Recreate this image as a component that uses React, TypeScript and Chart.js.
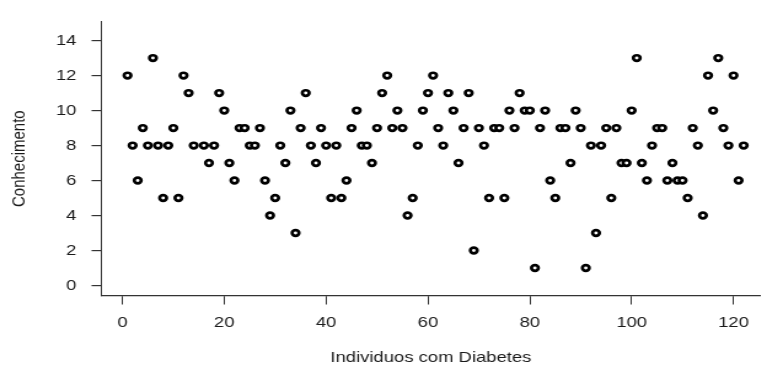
import { useEffect, useRef } from "react";
import { Chart, registerables } from "chart.js";

Chart.register(...registerables);

// Knowledge score for each individual (index 1..122); index 15 not shown in the plot
const conhecimento: (number | null)[] = [
  12, 8, 6, 9, 8, 13, 8, 5, 8, 9,
  5, 12, 11, 8, null, 8, 7, 8, 11, 10,
  7, 6, 9, 9, 8, 8, 9, 6, 4, 5,
  8, 7, 10, 3, 9, 11, 8, 7, 9, 8,
  5, 8, 5, 6, 9, 10, 8, 8, 7, 9,
  11, 12, 9, 10, 9, 4, 5, 8, 10, 11,
  12, 9, 8, 11, 10, 7, 9, 11, 2, 9,
  8, 5, 9, 9, 5, 10, 9, 11, 10, 10,
  1, 9, 10, 6, 5, 9, 9, 7, 10, 9,
  1, 8, 3, 8, 9, 5, 9, 7, 7, 10,
  13, 7, 6, 8, 9, 9, 6, 7, 6, 6,
  5, 9, 8, 4, 12, 10, 13, 9, 8, 12,
  6, 8,
];

const xTicks = [0, 20, 40, 60, 80, 100, 120];
const yTicks = [0, 2, 4, 6, 8, 10, 12, 14];

const xTitle = "Individuos com Diabetes";
const yTitle = "Conhecimento";

const INNER_W = 624; // canvas drawn narrower and stretched to 767px like the reference
const H = 368;

export default function App() {
  const ref = useRef<HTMLCanvasElement | null>(null);

  useEffect(() => {
    const canvas = ref.current;
    if (!canvas) return;
    const font = { family: "'Liberation Sans', Arial, sans-serif", size: 15 };
    const textColor = "#1a1a1a";
    const lineColor = "#333";
    const points = conhecimento
      .map((v, i) => ({ x: i + 1, y: v }))
      .filter((p) => p.y !== null) as { x: number; y: number }[];

    const chart = new Chart(canvas, {
      type: "scatter",
      data: {
        datasets: [
          {
            data: points,
            pointRadius: 2.8,
            pointBorderWidth: 2.7,
            pointBorderColor: "#000",
            pointBackgroundColor: "#fff",
            pointHoverRadius: 2.8,
          },
        ],
      },
      options: {
        animation: false,
        responsive: false,
        maintainAspectRatio: false,
        devicePixelRatio: 1,
        layout: { padding: { top: 20.2, right: 0, bottom: 0, left: 0 } },
        plugins: {
          legend: { display: false },
          tooltip: { enabled: false },
        },
        scales: {
          x: {
            type: "linear",
            min: -4.1,
            max: 125.25,
            afterBuildTicks: (ax: any) => {
              ax.ticks = xTicks.map((v) => ({ value: v }));
            },
            afterFit: (ax: any) => {
              ax.height = H - 296;
            },
            grid: {
              display: true,
              drawOnChartArea: false,
              drawTicks: true,
              tickLength: 8.5,
              color: lineColor,
              lineWidth: 1,
            },
            border: { display: true, color: lineColor, width: 1.2 },
            ticks: {
              color: textColor,
              font,
              padding: 9.5,
              autoSkip: false,
              maxRotation: 0,
              minRotation: 0,
            },
            title: {
              display: true,
              text: xTitle,
              color: textColor,
              font,
              padding: { top: 0, bottom: 1.5 },
            },
          },
          y: {
            type: "linear",
            min: -0.6,
            max: 15.1,
            afterBuildTicks: (ax: any) => {
              ax.ticks = yTicks.map((v) => ({ value: v }));
            },
            afterFit: (ax: any) => {
              ax.width = 82.6;
            },
            grid: {
              display: true,
              drawOnChartArea: false,
              drawTicks: true,
              tickLength: 8.1,
              color: lineColor,
              lineWidth: 1.2,
            },
            border: { display: true, color: lineColor, width: 1 },
            ticks: {
              color: textColor,
              font,
              padding: 12.3,
              autoSkip: false,
            },
            title: {
              display: true,
              text: yTitle,
              color: textColor,
              font,
              padding: { top: 6.5, bottom: 0 },
            },
          },
        },
      },
    } as any);

    return () => {
      chart.destroy();
    };
  }, []);

  return (
    <div style={{ position: "absolute", left: 0, top: 0, width: 767, height: H, background: "#fff" }}>
      <canvas
        ref={ref}
        width={INNER_W}
        height={H}
        style={{ display: "block", width: "767px", height: `${H}px` }}
      />
    </div>
  );
}
